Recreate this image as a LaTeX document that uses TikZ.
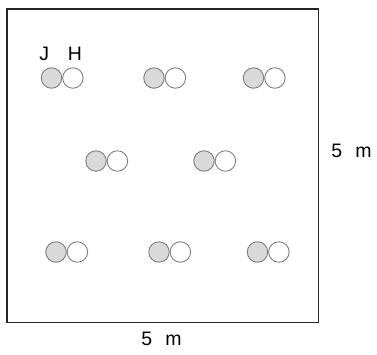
\documentclass[tikz,border=0pt]{standalone}
\usepackage{fontspec}
\setmainfont{Liberation Sans}
\usetikzlibrary{positioning}
\definecolor{ballgray}{HTML}{D9D9D9}
\definecolor{ballline}{HTML}{7F7F7F}
\tikzset{
	ball/.style={circle,draw=ballline,line width=0.9pt,minimum size=20.5pt,inner sep=0pt},
	jball/.style={ball,fill=ballgray},
	hball/.style={ball,fill=white},
	lbl/.style={anchor=base,font=\fontsize{19.5}{23}\selectfont},
}
\begin{document}
\begin{tikzpicture}[x=1pt,y=-1pt]
	\useasboundingbox (0,0) rectangle (377,354);
	%field
	\draw[line width=1.4pt, black!85] (7,9) rectangle (318.5,322.5);
	\node (side) at (351.5,157) [lbl]{5 \hspace{0.4em}m};
	\node (base) at (161.5,345) [lbl]{5 \hspace{0.4em}m};

	%ball pairs
	\foreach \x/\y [count=\i] in {51.5/78, 154/78, 253.5/78, 96/161, 204/161, 56/252, 159/252, 257.5/252}{
		\node (j\i) at (\x,\y) [jball]{};
		\node (h\i) [hball, right=0pt of j\i]{};
	}

	\node (jlbl) at (44.3,60) [lbl]{J};
	\node (hlbl) at (75,60) [lbl]{H};
\end{tikzpicture}
\end{document}
